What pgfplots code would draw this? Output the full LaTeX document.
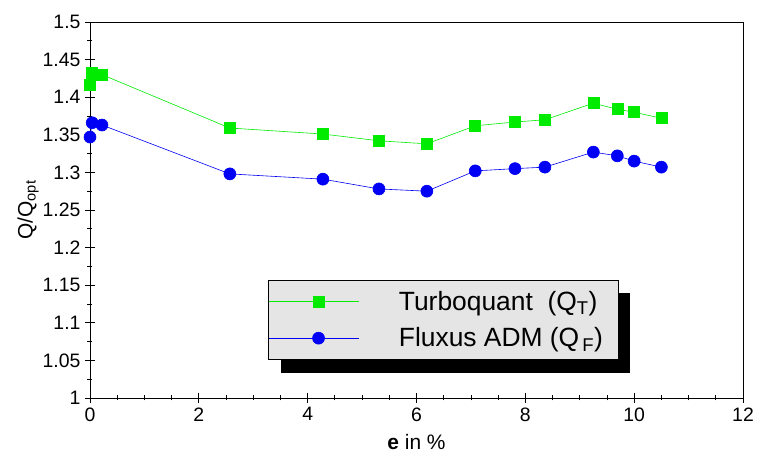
\documentclass[border=0pt]{standalone}
\usepackage{fontspec}
\setmainfont{Liberation Sans}
\usepackage{pgfplots}
\pgfplotsset{compat=1.18}
\definecolor{tqgreen}{RGB}{0,235,0}
\definecolor{fxblue}{RGB}{0,0,245}
\definecolor{legfill}{RGB}{229,229,229}
\begin{document}
\begin{tikzpicture}
\begin{axis}[
  name=ax,
  scale only axis,
  width=653bp, height=376bp,
  xmin=0, xmax=12, ymin=1, ymax=1.5,
  xtick={0,2,...,12},
  ytick={1,1.05,1.1,1.15,1.2,1.25,1.3,1.35,1.4,1.45,1.5},
  yticklabels={1,1.05,1.1,1.15,1.2,1.25,1.3,1.35,1.4,1.45,1.5},
  minor x tick num=3,
  minor y tick num=1,
  tick align=center,
  major tick length=10bp,
  minor tick length=5bp,
  xtick pos=bottom, ytick pos=left,
  tick style={black, line width=0.8pt},
  axis line style={line width=0.8pt},
  /pgf/number format/assume math mode=true,
  ticklabel style={font=\fontsize{19.5}{21}\selectfont},
  xticklabel style={yshift=-1bp},
  yticklabel style={xshift=-1bp},
  xlabel={\textbf{e} in \%},
  ylabel={Q/Q\textsubscript{opt}},
  every axis x label/.style={at={(rel axis cs:0.5,0)}, anchor=center, yshift=-44bp, font=\fontsize{21}{23}\selectfont},
  every axis y label/.style={at={(rel axis cs:0,0.5)}, anchor=center, xshift=-62bp, rotate=90, font=\fontsize{21}{23}\selectfont},
  legend style={at={(axis cs:3.27,1.157)}, anchor=north west, fill=legfill, draw=black, line width=0.6pt,
    font=\fontsize{26.5}{28}\selectfont, inner xsep=0bp, inner ysep=11bp, row sep=16bp,
    nodes={inner sep=0bp}, /tikz/every even column/.append style={column sep=0bp}},
  legend cell align=left,
  legend image code/.code={%
    \path (0bp,0bp) -- (90bp,0bp);
    \draw[#1, line width=0.7pt] (10bp,0bp) -- (90bp,0bp);
    \draw[#1, only marks] plot coordinates {(50bp,0bp)};
  },
]
\fill[black] (axis cs:3.51,1.1396) rectangle (axis cs:9.93,1.0332);
\addplot[tqgreen, line width=0.6pt, mark=square*, mark size=5.5bp, mark options={fill=tqgreen, draw=tqgreen}] coordinates {
(0,1.416) (0.04,1.432) (0.22,1.430) (2.57,1.359) (4.28,1.351) (5.31,1.342) (6.19,1.338)
(7.08,1.362) (7.81,1.367) (8.36,1.370) (9.25,1.392) (9.69,1.384) (10.0,1.380) (10.5,1.372)
};
\addlegendentry{\makebox[259bp][l]{\hspace{40bp}Turboquant\ \ (Q\textsubscript{T})}}
\addplot[fxblue, line width=0.6pt, mark=*, mark size=6bp, mark options={fill=fxblue, draw=fxblue}] coordinates {
(0,1.347) (0.04,1.366) (0.22,1.363) (2.57,1.298) (4.28,1.291) (5.31,1.278) (6.19,1.275)
(7.08,1.302) (7.81,1.305) (8.36,1.307) (9.25,1.327) (9.69,1.322) (10.0,1.315) (10.5,1.307)
};
\addlegendentry{\makebox[259bp][l]{\hspace{40bp}Fluxus ADM (Q\textsubscript{\,F})}}
\end{axis}
\pgfresetboundingbox
\path (ax.south west) ++(-90bp,-58bp) coordinate (bl);
\path (ax.north east) ++(16bp,22bp) coordinate (tr);
\useasboundingbox (bl) rectangle (tr);
\end{tikzpicture}
\end{document}
